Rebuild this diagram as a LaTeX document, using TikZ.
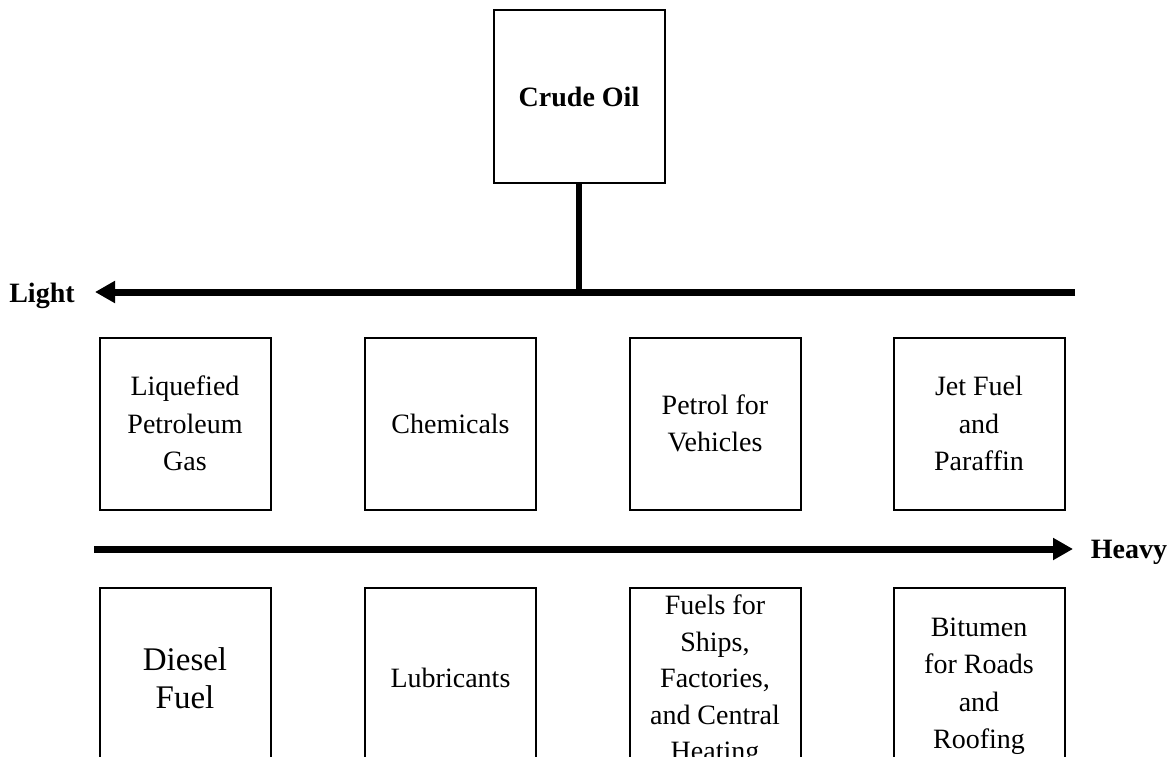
\documentclass[tikz,border=0pt]{standalone}
\usepackage{fontspec}
\setmainfont{Liberation Serif}
\usetikzlibrary{arrows.meta}
\begin{document}
\begin{tikzpicture}[x=1pt,y=-1pt,
  box/.style={draw, line width=2pt, minimum width=171pt, minimum height=172pt,
    inner sep=0pt, align=center, font=\fontsize{28}{37.5}\selectfont},
  lowbox/.style={box, minimum height=180pt},
  tallbox/.style={box, minimum height=196pt},
  fuelbox/.style={box, minimum height=186pt, font=\fontsize{28}{36.5}\selectfont},
  bigtext/.style={font=\fontsize{33}{38}\selectfont},
  title/.style={font=\fontsize{28}{34}\selectfont\bfseries},
  flow/.style={line width=7pt},
  flowtip/.style={flow, -{Triangle[length=20pt,width=21pt]}},
]
\useasboundingbox (0,0) rectangle (1172,757);
\clip (0,0) rectangle (1172,757);

% source
\node[box, title] (crude) at (579,96.5) {Crude Oil};

% direction axes
\coordinate (lightR) at (1075,292);
\coordinate (lightL) at (95,292);
\node[title] (light) at (42,296) {Light};
\draw[flowtip] (lightR) -- (lightL);
\draw[line width=6pt] (crude.south) -- (crude.south |- lightR);

\coordinate (heavyL) at (94,549);
\coordinate (heavyR) at (1073,549);
\node[title] (heavy) at (1129,552) {Heavy};
\draw[flowtip] (heavyL) -- (heavyR);

% light fractions
\node[box] (lpg)  at (185,423.5)   {Liquefied\\Petroleum\\Gas};
\node[box] (chem) at (450.5,423.5) {Chemicals};
\node[box] (pet)  at (715,423.5)   {Petrol for\\Vehicles};
\node[box] (jet)  at (979,423.5)   {Jet Fuel\\and\\Paraffin};

% heavy fractions (boxes run on past the lower edge)
\node[lowbox, bigtext] (dies) at (185,678) {Diesel\\Fuel};
\node[lowbox] (lub)  at (450.5,678) {Lubricants};
\node[fuelbox] (fuel) at (715,681)  {Fuels for\\Ships,\\Factories,\\and Central\\Heating};
\node[tallbox] (bit)  at (979,686)  {Bitumen\\for Roads\\and\\Roofing};
\end{tikzpicture}
\end{document}
